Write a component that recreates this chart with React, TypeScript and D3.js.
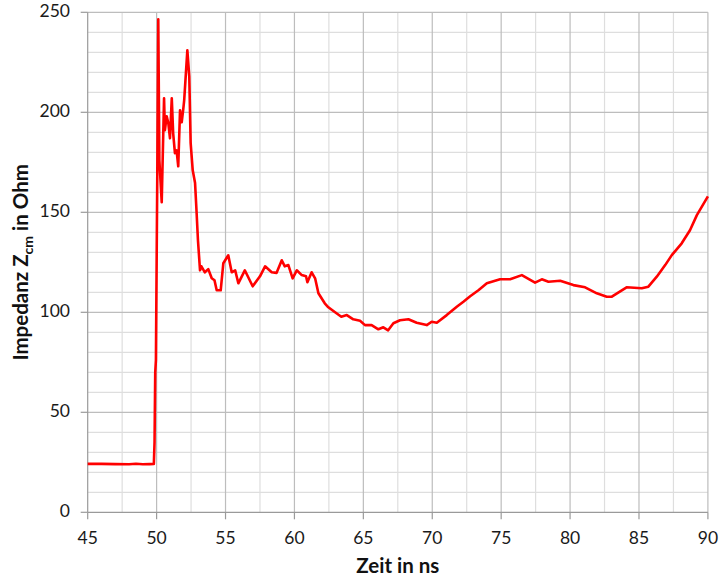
import React, { useEffect, useRef } from 'react'
import * as d3 from 'd3'

// time in ns and impedance in Ohm
const timeNs = [
  45, 46, 47, 48, 48.5, 49, 49.5, 49.8, 49.85, 49.9, 49.95, 50.05, 50.12, 50.2, 50.37,
  50.54, 50.6, 50.73, 50.85, 50.97, 51.1, 51.2, 51.33, 51.45, 51.57, 51.7, 51.82, 51.94,
  52.0, 52.23, 52.37, 52.47, 52.62, 52.79, 52.9, 53.0, 53.15, 53.25, 53.5, 53.75, 54.0,
  54.2, 54.36, 54.65, 54.84, 55.2, 55.45, 55.7, 55.93, 56.4, 56.97, 57.5, 57.87, 58.35,
  58.7, 59.08, 59.3, 59.56, 59.87, 60.17, 60.53, 60.84, 60.94, 61.25, 61.5, 61.74, 62.2,
  62.46, 62.95, 63.4, 63.8, 64.27, 64.76, 65.12, 65.6, 66.09, 66.45, 66.8, 67.18, 67.66,
  68.27, 68.87, 69.6, 69.96, 70.33, 71.05, 71.78, 72.26, 72.75, 73.35, 73.96, 74.92,
  75.65, 76.5, 77.46, 77.95, 78.43, 79.28, 80.24, 81.09, 81.94, 82.66, 83.03, 84.1, 85.2,
  85.68, 86.29, 86.9, 87.38, 88.1, 88.7, 89.2, 90,
]
const impedance = [
  24.2, 24.2, 24.1, 24.0, 24.3, 24.0, 24.1, 24.2, 35, 70, 76, 170, 246.5, 176, 155,
  207, 191, 198, 194.6, 187, 207, 189.6, 179.6, 181, 173, 201, 195, 202,
  206, 231, 218, 184.6, 171, 164.6, 150, 136, 121, 123, 120, 121.6, 117,
  116, 111, 111, 124.5, 128.5, 120, 121, 114.5, 121, 113, 118, 123, 120,
  119.7, 126, 123, 123.6, 117, 121, 118.6, 118, 115, 120, 117, 109.5, 104.5,
  102.5, 100, 97.8, 98.6, 96.5, 95.8, 93.6, 93.6, 91.5, 92.5, 91, 94.5, 96,
  96.5, 94.8, 93.6, 95.3, 94.8, 98.6, 102.8, 105.3, 108, 111, 114.5, 116.5,
  116.5, 118.6, 114.8, 116.5, 115.3, 115.8, 113.6, 112.5, 109.5, 107.8, 107.8, 112.5, 112,
  112.8, 117.8, 123.6, 128.6, 134.5, 141, 148.6, 158,
]
const xTicks = [45, 50, 55, 60, 65, 70, 75, 80, 85, 90]
const yTicks = [0, 50, 100, 150, 200, 250]

export default function App() {
  const ref = useRef<SVGSVGElement>(null)
  useEffect(() => {
    const el = ref.current
    if (!el) return
    const svg = d3.select(el)
    svg.selectAll('*').remove()
    const left = 87.7, right = 707.9, top = 12.3, bottom = 512.3
    const x = d3.scaleLinear().domain([45, 90]).range([left, right])
    const y = d3.scaleLinear().domain([0, 250]).range([bottom, top])
    const font = 'Lato, "Open Sans", sans-serif'

    // minor grid
    const g = svg.append('g')
    g.selectAll('line.mx').data(d3.range(47.5, 90, 5)).enter().append('line')
      .attr('x1', d => x(d)).attr('x2', d => x(d)).attr('y1', top).attr('y2', bottom)
      .attr('stroke', '#dedede').attr('stroke-width', 1.2)
    g.selectAll('line.my').data(d3.range(10, 251, 10).filter(v => v % 50 !== 0)).enter().append('line')
      .attr('x1', left).attr('x2', right).attr('y1', d => y(d)).attr('y2', d => y(d))
      .attr('stroke', '#dedede').attr('stroke-width', 1.2)
    // major grid
    g.selectAll('line.Mx').data(xTicks.slice(1)).enter().append('line')
      .attr('x1', d => x(d)).attr('x2', d => x(d)).attr('y1', top).attr('y2', bottom)
      .attr('stroke', '#bdbdbd').attr('stroke-width', 1.2)
    g.selectAll('line.My').data(yTicks.slice(1)).enter().append('line')
      .attr('x1', left).attr('x2', right).attr('y1', d => y(d)).attr('y2', d => y(d))
      .attr('stroke', '#bdbdbd').attr('stroke-width', 1.2)

    // axes
    const axisColor = '#9a9a9a'
    svg.append('line').attr('x1', left).attr('x2', left).attr('y1', top).attr('y2', bottom)
      .attr('stroke', axisColor).attr('stroke-width', 1.2)
    svg.append('line').attr('x1', left).attr('x2', right).attr('y1', bottom).attr('y2', bottom)
      .attr('stroke', axisColor).attr('stroke-width', 1.2)
    svg.selectAll('line.tx').data(xTicks).enter().append('line')
      .attr('x1', d => x(d)).attr('x2', d => x(d)).attr('y1', bottom).attr('y2', bottom + 7)
      .attr('stroke', axisColor).attr('stroke-width', 1.2)
    svg.selectAll('line.ty').data(yTicks).enter().append('line')
      .attr('x1', left - 7).attr('x2', left).attr('y1', d => y(d)).attr('y2', d => y(d))
      .attr('stroke', axisColor).attr('stroke-width', 1.2)

    svg.selectAll('text.xl').data(xTicks).enter().append('text')
      .attr('x', d => x(d)).attr('y', 540).attr('text-anchor', 'middle')
      .attr('dominant-baseline', 'middle').attr('font-family', font).attr('font-size', 17.5)
      .attr('fill', '#1a1a1a').text(d => d)
    svg.selectAll('text.yl').data(yTicks).enter().append('text')
      .attr('x', 70).attr('y', d => y(d)).attr('text-anchor', 'end')
      .attr('dominant-baseline', 'middle').attr('font-family', font).attr('font-size', 17.5)
      .attr('fill', '#1a1a1a').text(d => d)

    // titles
    svg.append('text').attr('x', (left + right) / 2).attr('y', 568).attr('text-anchor', 'middle')
      .attr('dominant-baseline', 'middle').attr('font-family', font).attr('font-size', 20.5)
      .attr('font-weight', 'bold').attr('fill', '#111').text('Zeit in ns')
    const yt = svg.append('text').attr('transform', `translate(21,${(top + bottom) / 2}) rotate(-90)`)
      .attr('text-anchor', 'middle').attr('font-family', font).attr('font-size', 20.5)
      .attr('font-weight', 'bold').attr('fill', '#111').attr('dy', '0.35em')
    yt.append('tspan').text('Impedanz Z')
    yt.append('tspan').attr('font-size', 14).attr('dy', 5).text('cm')
    yt.append('tspan').attr('dy', -5).text(' in Ohm')

    // curve
    const pts = timeNs.map((t, i) => [t, impedance[i]] as [number, number])
    const line = d3.line<[number, number]>().x(d => x(d[0])).y(d => y(d[1]))
    svg.append('path').attr('d', line(pts)).attr('fill', 'none')
      .attr('stroke', '#ff0000').attr('stroke-width', 2.6).attr('stroke-linejoin', 'round')
  }, [])

  return (
    <svg ref={ref} width={719} height={581}
      style={{ position: 'absolute', left: 0, top: 0, background: '#fff' }} />
  )
}
